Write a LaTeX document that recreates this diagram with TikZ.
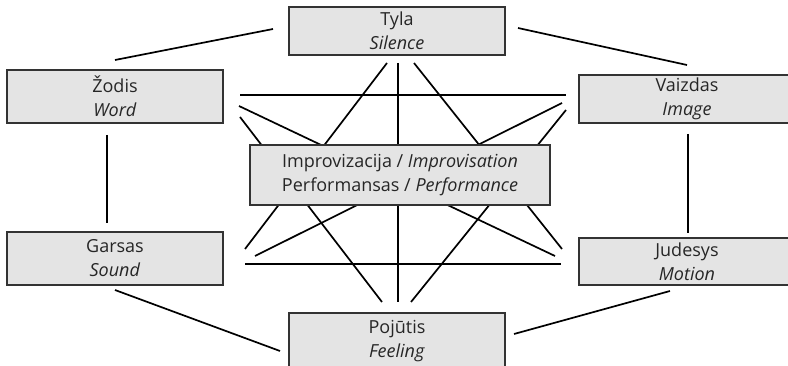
\documentclass[tikz,border=0pt]{standalone}
\usepackage{fontspec}
\setmainfont{Open Sans}
\definecolor{boxfill}{HTML}{E4E4E4}
\definecolor{boxline}{HTML}{333333}
\begin{document}
\begin{tikzpicture}[x=1pt,y=-1pt,
  concept/.style={draw=boxline,line width=1.3pt,fill=boxfill,rectangle,inner sep=0pt,
    align=center,font=\fontsize{18}{24}\selectfont,text=black!85},
  link/.style={line width=1.7pt,black}]
\useasboundingbox (0,0) rectangle (788,366);
\clip (0,0) rectangle (788,366);
% connector end coordinates
\coordinate (tz) at (273,29);   \coordinate (zt) at (115,60);
\coordinate (tv) at (518,28);   \coordinate (vt) at (687,65);
\coordinate (zg) at (107,135);  \coordinate (gz) at (107,223);
\coordinate (vj) at (688,134);  \coordinate (jv) at (688,233);
\coordinate (gp) at (115,290);  \coordinate (pg) at (280,351);
\coordinate (jp) at (670,291);  \coordinate (pj) at (514,334);
\coordinate (zv) at (240,95);   \coordinate (vz) at (566,95);
\coordinate (gj) at (245,264);  \coordinate (jg) at (561,264);
\coordinate (tp) at (398,63);   \coordinate (pt) at (398,302);
\coordinate (tg) at (387,63);   \coordinate (gt) at (245,249);
\coordinate (tj) at (414,63);   \coordinate (jt) at (562,249);
\coordinate (zj) at (239,106);  \coordinate (jz) at (555,256);
\coordinate (zp) at (240,117);  \coordinate (pz) at (382,302);
\coordinate (vg) at (562,103);  \coordinate (gv) at (255,256);
\coordinate (vp) at (566,110);  \coordinate (pv) at (411,302);
% outer ring
\draw[link] (tz) -- (zt);
\draw[link] (tv) -- (vt);
\draw[link] (zg) -- (gz);
\draw[link] (vj) -- (jv);
\draw[link] (gp) -- (pg);
\draw[link] (jp) -- (pj);
% inner links
\draw[link] (zv) -- (vz);
\draw[link] (gj) -- (jg);
\draw[link] (tp) -- (pt);
\draw[link] (tg) -- (gt);
\draw[link] (tj) -- (jt);
\draw[link] (zj) -- (jz);
\draw[link] (zp) -- (pz);
\draw[link] (vg) -- (gv);
\draw[link] (vp) -- (pv);
% boxes
\node[concept,minimum width=216pt,minimum height=48pt] (tyla) at (397,31) {Tyla\\\textit{Silence}};
\node[concept,minimum width=216pt,minimum height=53pt] (zodis) at (115,96.5) {Žodis\\\textit{Word}};
\node[concept,minimum width=216pt,minimum height=48pt] (vaizdas) at (687,99) {Vaizdas\\\textit{Image}};
\node[concept,minimum width=300pt,minimum height=60pt] (impro) at (400,175) {Improvizacija / \textit{Improvisation}\\Performansas / \textit{Performance}};
\node[concept,minimum width=216pt,minimum height=53pt] (garsas) at (115,258.5) {Garsas\\\textit{Sound}};
\node[concept,minimum width=216pt,minimum height=47pt] (judesys) at (687,261.5) {Judesys\\\textit{Motion}};
\node[concept,minimum width=216pt,minimum height=56pt] (pojutis) at (397,341) {Pojūtis\\\textit{Feeling}};
\end{tikzpicture}
\end{document}
